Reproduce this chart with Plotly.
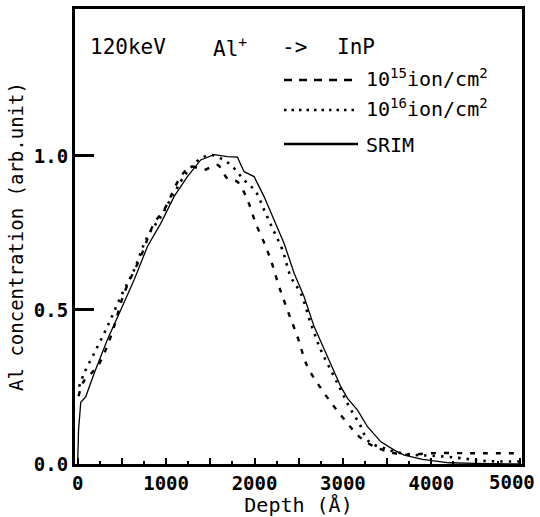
import plotly.graph_objects as go

# ---- data ----
srim_x = [0, 10, 35, 91, 186, 336, 487, 638, 789, 940, 1090, 1241, 1392, 1543, 1694, 1807,
          1882, 1995, 2108, 2222, 2335, 2448, 2561, 2674, 2825, 2976, 3052, 3165, 3278, 3429,
          3580, 3693, 3900, 4000, 4200, 4500, 5000]
srim_y = [0.0, 0.11, 0.20, 0.218, 0.294, 0.403, 0.500, 0.597, 0.706, 0.781, 0.868, 0.933, 0.987,
          1.004, 0.998, 0.996, 0.949, 0.933, 0.868, 0.792, 0.716, 0.619, 0.543, 0.446, 0.348,
          0.251, 0.213, 0.175, 0.121, 0.072, 0.045, 0.029, 0.015, 0.012, 0.004, 0.002, 0.0]

d16_x = [16, 72, 186, 336, 487, 638, 789, 940, 1090, 1241, 1392, 1505, 1618, 1731, 1882, 2014,
         2108, 2203, 2316, 2410, 2523, 2636, 2750, 2882, 2976, 3071, 3184, 3297, 3467, 3580,
         3800, 4000, 4300, 4600, 5000]
d16_y = [0.251, 0.294, 0.359, 0.446, 0.543, 0.630, 0.738, 0.803, 0.879, 0.949, 0.992, 1.003,
         0.992, 0.971, 0.922, 0.884, 0.825, 0.765, 0.695, 0.608, 0.554, 0.457, 0.370, 0.294,
         0.240, 0.186, 0.132, 0.072, 0.051, 0.040, 0.030, 0.027, 0.020, 0.010, 0.008]

d15_x = [10, 72, 223, 374, 525, 713, 864, 977, 1166, 1279, 1430, 1580, 1694, 1807, 1920, 2014,
         2127, 2203, 2278, 2372, 2486, 2599, 2750, 2901, 3052, 3165, 3300, 3454, 3700, 4000,
         4500, 5000]
d15_y = [0.22, 0.27, 0.316, 0.413, 0.554, 0.673, 0.781, 0.825, 0.933, 0.965, 0.955, 0.971,
         0.927, 0.916, 0.857, 0.781, 0.706, 0.646, 0.576, 0.500, 0.413, 0.316, 0.246, 0.186,
         0.132, 0.094, 0.065, 0.045, 0.030, 0.035, 0.035, 0.035]

x_ticks = [0, 500, 1000, 1500, 2000, 2500, 3000, 3500, 4000, 4500, 5000]
x_labels = ["0", "", "1000", "", "2000", "", "3000", "", "4000", "", ""]
x_last_label = "5000"   # drawn right-aligned at the frame edge, as in the original
y_ticks = [0.0, 0.5, 1.0]
y_labels = ["0.0", "0.5", "1.0"]

title_parts = ["120keV", "Al<sup>+</sup>", "->", "InP"]
legend_labels = ["10<sup>15</sup>ion/cm<sup>2</sup>", "10<sup>16</sup>ion/cm<sup>2</sup>", "SRIM"]

W, H = 540, 517
L, R, T, B = 75, 18, 9, 53
pw, ph = W - L - R, H - T - B

def px(xp):  # window pixel -> paper
    return (xp - L) / pw

def py(yp):
    return (H - B - yp) / ph

MONO = "DejaVu Sans Mono"

fig = go.Figure()
fig.add_trace(go.Scatter(x=srim_x, y=srim_y, mode="lines",
                         line=dict(color="black", width=1.3), showlegend=False))
fig.add_trace(go.Scatter(x=d16_x, y=d16_y, mode="lines", line_shape="spline",
                         line=dict(color="black", width=2.6, dash="2.5px,6px"), showlegend=False))
fig.add_trace(go.Scatter(x=d15_x, y=d15_y, mode="lines", line_shape="spline",
                         line=dict(color="black", width=2.4, dash="5px,8px"), showlegend=False))

# legend drawn by hand
legend_rows = [(80, 78, "8px,7px", 2.5), (110, 108, "2.5px,5px", 2.5), (144, 145, "solid", 2.5)]
for (ly, ty, dash, wdt), lab in zip(legend_rows, legend_labels):
    fig.add_shape(type="line", xref="paper", yref="paper",
                  x0=px(284), x1=px(358), y0=py(ly), y1=py(ly),
                  line=dict(color="black", width=wdt, dash=dash))
    fig.add_annotation(xref="paper", yref="paper", x=px(364), y=py(ty), text=lab,
                       showarrow=False, xanchor="left", yanchor="middle",
                       font=dict(family=MONO, size=20, color="black"))

for xpos, part in zip([88, 211, 280, 335], title_parts):
    fig.add_annotation(xref="paper", yref="paper", x=px(xpos), y=py(47), text=part,
                       showarrow=False, xanchor="left", yanchor="middle",
                       font=dict(family=MONO, size=21, color="black"))

# last x tick label, kept inside the page
fig.add_annotation(xref="paper", yref="paper", x=px(537), y=py(482), text=x_last_label,
                   showarrow=False, xanchor="right", yanchor="middle",
                   font=dict(family=MONO, size=19, color="black", weight="bold"))

fig.update_layout(
    width=W, height=H,
    margin=dict(l=L, r=R, t=T, b=B, autoexpand=False),
    paper_bgcolor="white", plot_bgcolor="white",
    showlegend=False,
)
fig.update_xaxes(
    range=[-30, 5025], tickvals=x_ticks, ticktext=x_labels,
    ticks="inside", ticklen=6, tickwidth=2, tickcolor="black",
    minor=dict(dtick=250, tick0=0, ticks="inside", ticklen=3, tickwidth=2, tickcolor="black"),
    showline=True, linecolor="black", linewidth=3, mirror=True,
    showgrid=False, zeroline=False, automargin=False,
    tickfont=dict(family=MONO, size=19, color="black", weight="bold"),
    title=dict(text="Depth (Å)", font=dict(family=MONO, size=20, color="black"), standoff=4),
)
fig.update_yaxes(
    range=[0, 1.477], tickvals=y_ticks, ticktext=y_labels,
    ticks="inside", ticklen=19, tickwidth=3, tickcolor="black",
    showline=True, linecolor="black", linewidth=3, mirror=True,
    showgrid=False, zeroline=False, automargin=False,
    tickfont=dict(family=MONO, size=19, color="black", weight="bold"),
    title=dict(text="Al concentration (arb.unit)", font=dict(family=MONO, size=19, color="black"),
               standoff=6),
)

fig.write_html("out.html", config={"responsive": False, "displayModeBar": False},
               post_script="document.body.style.margin='0';document.body.style.overflow='hidden';")
